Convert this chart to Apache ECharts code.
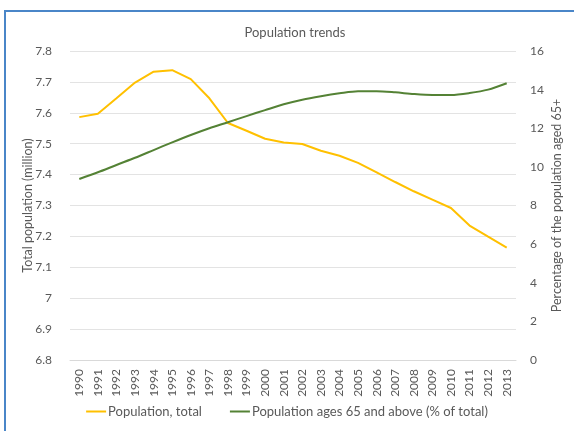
<!DOCTYPE html>
<html>
<head>
<meta charset="utf-8">
<script src="https://cdn.jsdelivr.net/npm/echarts@6/dist/echarts.min.js"></script>
<style>
html,body{margin:0;padding:0;background:#fff;}
#c{width:574px;height:431px;}
</style>
</head>
<body>
<div id="c"></div>
<script>
const years = ['1990','1991','1992','1993','1994','1995','1996','1997','1998','1999','2000','2001','2002','2003','2004','2005','2006','2007','2008','2009','2010','2011','2012','2013'];
const populationTotal = [7.586,7.597,7.647,7.698,7.733,7.738,7.709,7.647,7.567,7.542,7.516,7.504,7.499,7.477,7.461,7.438,7.407,7.376,7.346,7.319,7.292,7.235,7.199,7.164];
const popAged65 = [9.37,9.72,10.10,10.47,10.87,11.27,11.65,12.00,12.31,12.63,12.94,13.24,13.48,13.66,13.81,13.92,13.92,13.86,13.77,13.72,13.72,13.82,14.00,14.33];
const leftTicks = ['6.8','6.9','7','7.1','7.2','7.3','7.4','7.5','7.6','7.7','7.8'];

const txt = '#595959';
const font = 'Lato, "Open Sans", sans-serif';
const chart = echarts.init(document.getElementById('c'), null, {renderer:'canvas'});
chart.setOption({
  animation:false,
  textStyle:{fontFamily:font},
  title:{text:'Population trends', left:290, top:21, textAlign:'center',
    textStyle:{fontSize:13, fontWeight:'normal', color:txt, fontFamily:font}},
  graphic:[{type:'rect', shape:{x:5, y:11, width:700, height:600},
    style:{fill:'none', stroke:'#4A86C8', lineWidth:2}, silent:true}],
  legend:{bottom:8, left:'center', itemWidth:20, itemHeight:2, itemGap:28,
    icon:'rect',
    textStyle:{fontSize:13, color:txt, fontFamily:font, padding:[0,0,0,-3]},
    data:['Population, total','Population ages 65 and above (% of total)']},
  grid:{left:70, right:58, top:51, bottom:71},
  xAxis:{type:'category', data:years, boundaryGap:true,
    axisLine:{show:true, lineStyle:{color:'#D9D9D9'}},
    axisTick:{show:false},
    axisLabel:{rotate:90, fontSize:12, color:txt, interval:0, margin:9, fontFamily:font}},
  yAxis:[
    {type:'value', min:6.8, max:7.8, interval:0.1,
     name:'Total population (million)', nameLocation:'middle', nameGap:36, nameRotate:90,
     nameMoveOverlap:false,
     nameTextStyle:{fontSize:12.5, color:txt, fontFamily:font},
     axisLine:{show:false}, axisTick:{show:false},
     axisLabel:{fontSize:12, color:txt, margin:18, fontFamily:font,
       formatter:function(v){const i=Math.round((v-6.8)/0.1);return leftTicks[i]!==undefined?leftTicks[i]:'';}},
     splitLine:{lineStyle:{color:'#E3E3E3'}}},
    {type:'value', min:0, max:16, interval:2,
     name:'Percentage of the population aged 65+', nameLocation:'middle', nameGap:34, nameRotate:90,
     nameMoveOverlap:false,
     nameTextStyle:{fontSize:12.5, color:txt, fontFamily:font},
     axisLine:{show:false}, axisTick:{show:false},
     axisLabel:{fontSize:12, color:txt, margin:14, fontFamily:font},
     splitLine:{show:false}}
  ],
  series:[
    {name:'Population, total', type:'line', data:populationTotal, yAxisIndex:0,
     symbol:'none', lineStyle:{color:'#FFC000', width:2}, itemStyle:{color:'#FFC000'}},
    {name:'Population ages 65 and above (% of total)', type:'line', data:popAged65, yAxisIndex:1,
     symbol:'none', smooth:0.3, lineStyle:{color:'#548235', width:2}, itemStyle:{color:'#548235'}}
  ]
});
</script>
</body>
</html>
